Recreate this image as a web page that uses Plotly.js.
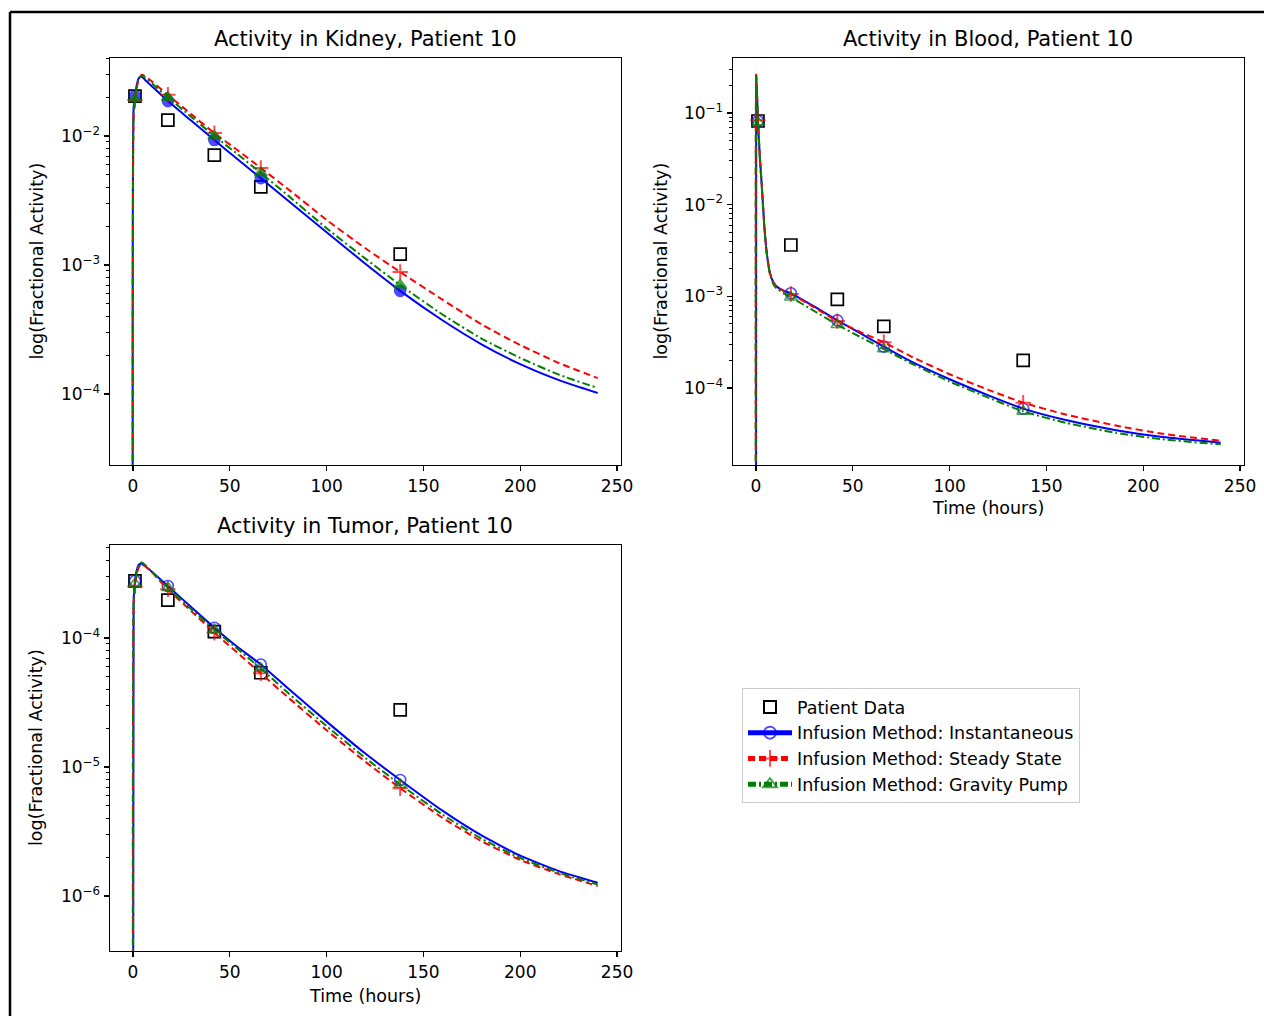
<!DOCTYPE html>
<html><head><meta charset="utf-8">
<script src="https://cdn.plot.ly/plotly-3.0.1.min.js"></script>
<style>html,body{margin:0;padding:0;background:#fff}#chart{width:1264px;height:1016px}</style>
</head><body><div id="chart"></div>
<script>
// ---------- data ----------
const timeModel = [0, 0.3, 1, 2, 3, 4.5, 6, 10, 18, 30, 42, 54, 66, 80, 100, 120, 138, 160, 180, 200, 220, 240];
const timeBlood = [0, 0.1, 1, 2, 3, 4.3, 5.5, 7.2, 9, 10.7, 14, 18, 30, 42, 54, 66, 80, 100, 120, 138, 160, 186, 210, 240];
const timeData = [1, 18, 42, 66, 138];

const kidneyData = [2.04e-2, 1.33e-2, 7.12e-3, 4.03e-3, 1.216e-3];
const kidneyInstantaneous = [1e-7, 1.660e-2, 2.042e-2, 2.512e-2, 2.818e-2, 2.884e-2, 2.748e-2, 2.415e-2, 1.866e-2, 1.318e-2, 9.31e-3, 6.607e-3, 4.721e-3, 3.162e-3, 1.799e-3, 1.023e-3, 6.31e-4, 3.715e-4, 2.432e-4, 1.706e-4, 1.282e-4, 1.019e-4];
const kidneySteadyState = [1e-7, 1.413e-2, 1.905e-2, 2.399e-2, 2.754e-2, 2.985e-2, 2.917e-2, 2.630e-2, 2.089e-2, 1.479e-2, 1.054e-2, 7.762e-3, 5.649e-3, 3.890e-3, 2.239e-3, 1.349e-3, 8.83e-4, 5.370e-4, 3.467e-4, 2.399e-4, 1.738e-4, 1.330e-4];
const kidneyGravityPump = [1e-7, 1.514e-2, 1.950e-2, 2.455e-2, 2.786e-2, 2.951e-2, 2.851e-2, 2.541e-2, 1.995e-2, 1.413e-2, 1.0e-2, 7.244e-3, 5.176e-3, 3.467e-3, 1.928e-3, 1.122e-3, 7.0e-4, 4.121e-4, 2.692e-4, 1.905e-4, 1.413e-4, 1.114e-4];

const bloodData = [8.18e-2, 3.63e-3, 9.27e-4, 4.71e-4, 2.0e-4];
const bloodInstantaneous = [1e-9, 2.594e-1, 8.185e-2, 3.236e-2, 1.585e-2, 5.754e-3, 3.020e-3, 1.782e-3, 1.413e-3, 1.276e-3, 1.161e-3, 1.079e-3, 7.762e-4, 5.470e-4, 3.936e-4, 2.825e-4, 1.950e-4, 1.245e-4, 8.318e-5, 5.957e-5, 4.467e-5, 3.467e-5, 2.917e-5, 2.529e-5];
const bloodSteadyState = [1e-9, 2.630e-1, 8.318e-2, 3.273e-2, 1.603e-2, 5.821e-3, 3.055e-3, 1.799e-3, 1.413e-3, 1.274e-3, 1.148e-3, 1.059e-3, 7.586e-4, 5.370e-4, 4.074e-4, 3.162e-4, 2.213e-4, 1.413e-4, 9.550e-5, 6.918e-5, 5.129e-5, 3.890e-5, 3.162e-5, 2.661e-5];
const bloodGravityPump = [1e-9, 2.512e-1, 7.943e-2, 3.162e-2, 1.549e-2, 5.623e-3, 2.951e-3, 1.738e-3, 1.349e-3, 1.216e-3, 1.096e-3, 9.772e-4, 6.918e-4, 4.898e-4, 3.589e-4, 2.661e-4, 1.862e-4, 1.175e-4, 7.852e-5, 5.559e-5, 4.169e-5, 3.236e-5, 2.754e-5, 2.427e-5];

const tumorData = [2.77e-4, 1.97e-4, 1.12e-4, 5.38e-5, 2.77e-5];
const tumorInstantaneous = [1e-8, 1.905e-4, 2.767e-4, 3.388e-4, 3.715e-4, 3.758e-4, 3.631e-4, 3.236e-4, 2.529e-4, 1.738e-4, 1.202e-4, 8.511e-5, 6.237e-5, 4.074e-5, 2.249e-5, 1.271e-5, 7.943e-6, 4.571e-6, 2.951e-6, 2.056e-6, 1.560e-6, 1.268e-6];
const tumorSteadyState = [1e-8, 1.778e-4, 2.512e-4, 3.162e-4, 3.548e-4, 3.758e-4, 3.631e-4, 3.199e-4, 2.388e-4, 1.622e-4, 1.099e-4, 7.674e-5, 5.321e-5, 3.475e-5, 1.928e-5, 1.099e-5, 6.855e-6, 4.027e-6, 2.661e-6, 1.905e-6, 1.479e-6, 1.197e-6];
const tumorGravityPump = [1e-8, 1.905e-4, 2.630e-4, 3.311e-4, 3.715e-4, 3.846e-4, 3.715e-4, 3.236e-4, 2.455e-4, 1.679e-4, 1.161e-4, 8.222e-5, 5.821e-5, 3.758e-5, 2.075e-5, 1.175e-5, 7.328e-6, 4.266e-6, 2.786e-6, 1.972e-6, 1.514e-6, 1.230e-6];

const seriesNames = ['Patient Data', 'Infusion Method: Instantaneous', 'Infusion Method: Steady State', 'Infusion Method: Gravity Pump'];
const xTicks = [0, 50, 100, 150, 200, 250];

// ---------- layout helpers ----------
const W = 1264, H = 1016;
const FONT = 'DejaVu Sans, Liberation Sans, sans-serif';
const TICK = 17, LABEL = 17.5, TITLE = 21, LEG = 17.5;
const px = x => x / W;
const py = y => 1 - y / H;

function markerSize(times, size) {
  return times.map(t => timeData.includes(t) ? size : 0);
}

function panelTraces(xa, ya, times, data, inst, steady, grav, filled, showLeg) {
  const ln = {shape: 'spline', smoothing: 0.5, width: 2};
  return [
    {x: timeData, y: data, xaxis: xa, yaxis: ya, mode: 'markers', name: seriesNames[0],
     legendgroup: 'g0', showlegend: showLeg,
     marker: {symbol: 'square-open', size: 12, color: 'black', line: {width: 1.7, color: 'black'}}},
    {x: times, y: inst, xaxis: xa, yaxis: ya, mode: 'lines+markers', name: seriesNames[1],
     legendgroup: 'g1', showlegend: showLeg,
     line: Object.assign({color: '#0000ff'}, ln),
     marker: {symbol: filled ? 'circle' : 'circle-open', size: markerSize(times, 11), color: '#0000ff', line: {width: 1.6, color: '#0000ff'}}},
    {x: times, y: steady, xaxis: xa, yaxis: ya, mode: 'lines+markers', name: seriesNames[2],
     legendgroup: 'g2', showlegend: showLeg,
     line: Object.assign({color: '#ff0000', dash: '7px,4px'}, ln),
     marker: {symbol: 'cross-thin-open', size: markerSize(times, 11), color: '#ff0000', line: {width: 2, color: '#ff0000'}}},
    {x: times, y: grav, xaxis: xa, yaxis: ya, mode: 'lines+markers', name: seriesNames[3],
     legendgroup: 'g3', showlegend: showLeg,
     line: Object.assign({color: '#008000', dash: '8px,3px,2px,3px'}, ln),
     marker: {symbol: filled ? 'triangle-up' : 'triangle-up-open', size: markerSize(times, 11), color: '#008000', line: {width: 1.6, color: '#008000'}}}
  ];
}

const traces = [].concat(
  panelTraces('x', 'y', timeModel, kidneyData, kidneyInstantaneous, kidneySteadyState, kidneyGravityPump, true, false),
  panelTraces('x2', 'y2', timeBlood, bloodData, bloodInstantaneous, bloodSteadyState, bloodGravityPump, false, true),
  panelTraces('x3', 'y3', timeModel, tumorData, tumorInstantaneous, tumorSteadyState, tumorGravityPump, false, false)
);

function logTicks(lo, hi) {
  const major = [], text = [], minor = [];
  for (let e = lo; e <= hi; e++) {
    major.push(Math.pow(10, e));
    text.push('10<sup>\u2212' + Math.abs(e) + '</sup>');
    for (let m = 2; m <= 9; m++) minor.push(m * Math.pow(10, e));
  }
  return {major, text, minor};
}

function xAxis(domain, anchor) {
  return {
    domain, anchor, range: [-12, 252], tickvals: xTicks, ticktext: xTicks.map(String),
    showline: true, mirror: true, linecolor: 'black', linewidth: 1.2,
    ticks: 'outside', ticklen: 5, tickwidth: 1.2, tickcolor: 'black',
    showgrid: false, zeroline: false, tickfont: {family: FONT, size: TICK, color: 'black'}
  };
}
function yAxis(domain, anchor, range, lo, hi) {
  const t = logTicks(lo, hi);
  return {
    domain, anchor, type: 'log', range,
    tickvals: t.major, ticktext: t.text,
    minor: {tickvals: t.minor, ticks: 'outside', ticklen: 3, tickwidth: 1, tickcolor: 'black', showgrid: false},
    showline: true, mirror: true, linecolor: 'black', linewidth: 1.2,
    ticks: 'outside', ticklen: 5, tickwidth: 1.2, tickcolor: 'black',
    showgrid: false, zeroline: false, tickfont: {family: FONT, size: TICK, color: 'black'}
  };
}

const leftX = [px(109.8), px(620.9)];
const rightX = [px(732.8), px(1243.9)];
const topY = [py(465), py(58)];
const botY = [py(951), py(545)];

function ann(text, x, y, size, angle) {
  return {text, x: px(x), y: py(y), xref: 'paper', yref: 'paper', showarrow: false,
          xanchor: 'center', yanchor: 'middle', textangle: angle || 0,
          font: {family: FONT, size, color: 'black'}};
}

const layout = {
  width: W, height: H, margin: {l: 0, r: 0, t: 0, b: 0},
  paper_bgcolor: 'white', plot_bgcolor: 'white',
  font: {family: FONT, color: 'black'},
  xaxis: xAxis(leftX, 'y'),
  yaxis: yAxis(topY, 'x', [-4.55, -1.395], -4, -2),
  xaxis2: xAxis(rightX, 'y2'),
  yaxis2: yAxis(topY, 'x2', [-4.84, -0.40], -4, -1),
  xaxis3: xAxis(leftX, 'y3'),
  yaxis3: yAxis(botY, 'x3', [-6.426, -3.279], -6, -4),
  showlegend: true,
  legend: {x: px(742), y: py(688), xanchor: 'left', yanchor: 'top',
           bordercolor: '#cccccc', borderwidth: 1, bgcolor: 'white',
           font: {family: FONT, size: LEG, color: 'black'},
           itemsizing: 'constant', itemwidth: 44, tracegroupgap: 3, traceorder: 'normal'},
  annotations: [
    ann('Activity in Kidney, Patient 10', 365, 39, TITLE),
    ann('Activity in Blood, Patient 10', 988, 39, TITLE),
    ann('Activity in Tumor, Patient 10', 365, 526, TITLE),
    ann('Time (hours)', 988, 508, LABEL),
    ann('Time (hours)', 365, 996, LABEL),
    ann('log(Fractional Activity)', 36, 261.5, LABEL, -90),
    ann('log(Fractional Activity)', 660, 261.5, LABEL, -90),
    ann('log(Fractional Activity)', 36, 748, LABEL, -90)
  ],
  shapes: [
    {type: 'line', xref: 'paper', yref: 'paper', x0: px(10), x1: 1, y0: py(12), y1: py(12), line: {color: 'black', width: 2.5}},
    {type: 'line', xref: 'paper', yref: 'paper', x0: px(10), x1: px(10), y0: py(12), y1: 0, line: {color: 'black', width: 2.5}}
  ]
};

Plotly.newPlot('chart', traces, layout, {displayModeBar: false, staticPlot: true});
</script>
</body></html>
